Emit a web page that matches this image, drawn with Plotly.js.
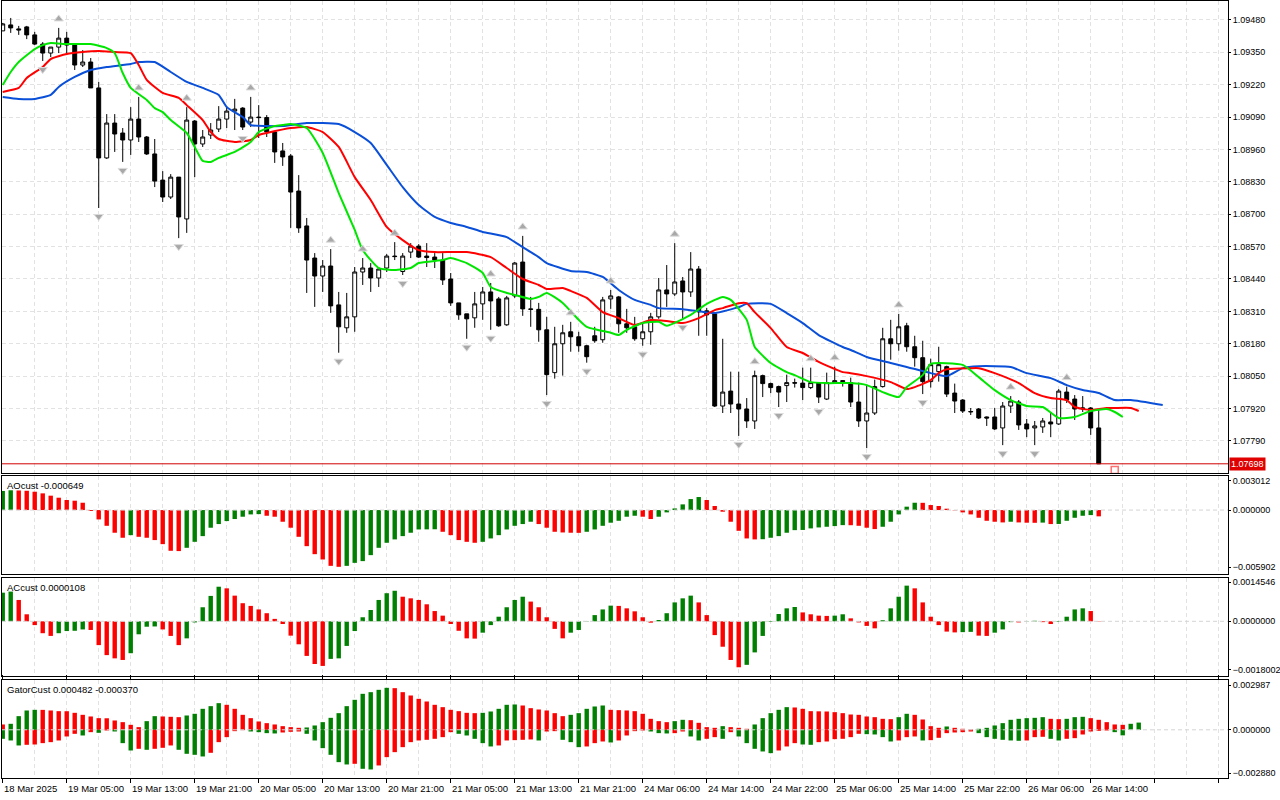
<!DOCTYPE html>
<html>
<head>
<meta charset="utf-8">
<script src="https://cdn.plot.ly/plotly-3.0.1.min.js"></script>
<style>
  html, body { margin:0; padding:0; background:#fff; }
  #chart { width:1280px; height:800px; }
</style>
</head>
<body>
<div id="chart"></div>
<script>
// EURUSD H1, bars 18 Mar 21:00 .. 26 Mar 15:00 (bar index on x)
var openP = [1.09436,1.09460,1.09444,1.09452,1.09420,1.09383,1.09347,1.09371,1.09407,1.09379,
1.09299,1.09311,1.09207,1.08926,1.09066,1.09026,1.08998,1.09082,1.09010,1.08942,
1.08837,1.08769,1.08849,1.08681,1.09074,1.08982,1.09018,1.09042,1.09082,1.09114,
1.09126,1.09070,1.09090,1.09088,1.09030,1.08954,1.08934,1.08793,1.08653,1.08524,
1.08452,1.08492,1.08336,1.08244,1.08288,1.08468,1.08484,1.08444,1.08484,1.08532,
1.08470,1.08548,1.08572,1.08532,1.08528,1.08516,1.08440,1.08344,1.08300,1.08284,
1.08340,1.08388,1.08360,1.08256,1.08372,1.08508,1.08320,1.08318,1.08236,1.08064,
1.08180,1.08228,1.08208,1.08172,1.08212,1.08196,1.08360,1.08368,1.08260,1.08248,
1.08200,1.08228,1.08288,1.08396,1.08380,1.08432,1.08388,1.08480,1.08312,1.08300,
1.07930,1.07990,1.07938,1.07918,1.07870,1.08052,1.08020,1.08008,1.08012,1.08024,
1.08022,1.08004,1.08024,1.07958,1.08024,1.08032,1.08024,1.07946,1.07870,1.07902,
1.08008,1.08200,1.08180,1.08252,1.08168,1.08124,1.08028,1.08068,1.08088,1.07982,
1.07954,1.07906,1.07918,1.07886,1.07886,1.07842,1.07930,1.07946,1.07858,1.07842,
1.07846,1.07866,1.07858,1.07986,1.07958,1.07918,1.07922,1.07842];
var highP = [1.09468,1.09488,1.09456,1.09456,1.09432,1.09391,1.09371,1.09448,1.09432,1.09387,
1.09359,1.09327,1.09231,1.09102,1.09102,1.09046,1.09130,1.09171,1.09014,1.09002,
1.08873,1.08861,1.08849,1.09130,1.09078,1.09038,1.09066,1.09134,1.09134,1.09163,
1.09130,1.09171,1.09138,1.09098,1.09034,1.08986,1.08942,1.08857,1.08685,1.08544,
1.08516,1.08560,1.08388,1.08384,1.08488,1.08524,1.08504,1.08488,1.08540,1.08588,
1.08544,1.08584,1.08580,1.08584,1.08544,1.08544,1.08464,1.08344,1.08300,1.08388,
1.08408,1.08424,1.08368,1.08372,1.08508,1.08613,1.08368,1.08344,1.08288,1.08248,
1.08256,1.08268,1.08228,1.08176,1.08248,1.08368,1.08396,1.08372,1.08320,1.08288,
1.08260,1.08304,1.08444,1.08496,1.08584,1.08448,1.08548,1.08492,1.08324,1.08304,
1.08200,1.08068,1.08068,1.07962,1.08072,1.08056,1.08024,1.08012,1.08056,1.08040,
1.08084,1.08084,1.08026,1.08064,1.08088,1.08034,1.08044,1.08024,1.08016,1.08036,
1.08244,1.08276,1.08300,1.08264,1.08212,1.08192,1.08120,1.08168,1.08092,1.08020,
1.07958,1.07922,1.07922,1.07888,1.07922,1.07946,1.07970,1.07954,1.07878,1.07870,
1.07882,1.07906,1.07998,1.08008,1.07974,1.07970,1.07926,1.07914];
var lowP = [1.09436,1.09428,1.09420,1.09403,1.09379,1.09315,1.09331,1.09347,1.09339,1.09279,
1.09291,1.09207,1.08725,1.08922,1.08950,1.08910,1.08938,1.08990,1.08938,1.08809,
1.08749,1.08761,1.08604,1.08625,1.08849,1.08970,1.09002,1.09030,1.09046,1.09038,
1.09038,1.09050,1.09006,1.09010,1.08906,1.08894,1.08645,1.08625,1.08384,1.08328,
1.08388,1.08304,1.08144,1.08224,1.08228,1.08416,1.08388,1.08408,1.08468,1.08516,
1.08456,1.08524,1.08524,1.08488,1.08484,1.08416,1.08332,1.08276,1.08200,1.08244,
1.08276,1.08236,1.08248,1.08252,1.08364,1.08292,1.08248,1.08188,1.07974,1.08040,
1.08052,1.08148,1.08148,1.08104,1.08184,1.08184,1.08320,1.08224,1.08224,1.08192,
1.08172,1.08176,1.08280,1.08328,1.08372,1.08280,1.08368,1.08212,1.08212,1.07926,
1.07902,1.07902,1.07810,1.07842,1.07838,1.07966,1.07982,1.07926,1.07946,1.08004,
1.07954,1.07998,1.07942,1.07954,1.08020,1.08008,1.07926,1.07846,1.07761,1.07894,
1.08004,1.08116,1.08152,1.08148,1.08088,1.07978,1.08004,1.08028,1.07966,1.07902,
1.07902,1.07894,1.07878,1.07850,1.07834,1.07773,1.07902,1.07834,1.07805,1.07773,
1.07822,1.07805,1.07854,1.07942,1.07874,1.07906,1.07814,1.07697];
var closeP = [1.09464,1.09448,1.09440,1.09420,1.09383,1.09347,1.09371,1.09407,1.09379,1.09299,
1.09311,1.09207,1.08926,1.09066,1.09022,1.08998,1.09082,1.09010,1.08942,1.08833,
1.08769,1.08849,1.08689,1.09078,1.08982,1.09010,1.09038,1.09082,1.09114,1.09122,
1.09050,1.09090,1.09088,1.09030,1.08950,1.08930,1.08789,1.08645,1.08516,1.08452,
1.08492,1.08332,1.08248,1.08288,1.08468,1.08484,1.08444,1.08480,1.08532,1.08530,
1.08532,1.08572,1.08528,1.08526,1.08516,1.08436,1.08344,1.08296,1.08280,1.08340,
1.08388,1.08352,1.08252,1.08364,1.08504,1.08320,1.08318,1.08236,1.08056,1.08180,
1.08224,1.08208,1.08172,1.08128,1.08192,1.08356,1.08372,1.08260,1.08244,1.08200,
1.08228,1.08288,1.08396,1.08380,1.08428,1.08388,1.08480,1.08308,1.08296,1.07930,
1.07986,1.07938,1.07918,1.07870,1.08052,1.08020,1.08004,1.07986,1.08024,1.08022,
1.08004,1.08024,1.07966,1.08024,1.08032,1.08028,1.07946,1.07870,1.07902,1.08008,
1.08200,1.08180,1.08248,1.08168,1.08124,1.08028,1.08096,1.08096,1.07978,1.07950,
1.07910,1.07908,1.07882,1.07882,1.07838,1.07930,1.07950,1.07854,1.07838,1.07850,
1.07870,1.07858,1.07990,1.07954,1.07918,1.07922,1.07842,1.07698];

// Alligator lines (already shifted forward), read at bar index
var jawIdx = [0,2,4,6,7,9,11,13,16,17,19,21,23,25,27,28,30,31,33,35,38,42,44,46,48,50,52,54,56,58,60,63,65,67,68,71,73,75,77,79,81,82,85,87,89,92,93,96,98,100,102,105,106,108,111,113,116,118,120,122,126,128,131,133,135,137,139,141,145];
var jawVal = [1.09171,1.09163,1.09163,1.09179,1.09211,1.09251,1.09279,1.09291,1.09303,1.09311,
1.09311,1.09271,1.09231,1.09207,1.09179,1.09130,1.09090,1.09058,1.09054,1.09054,
1.09066,1.09062,1.09030,1.08986,1.08898,1.08809,1.08737,1.08689,1.08665,1.08649,
1.08629,1.08608,1.08568,1.08528,1.08504,1.08472,1.08468,1.08448,1.08396,1.08356,
1.08336,1.08323,1.08319,1.08311,1.08303,1.08327,1.08340,1.08340,1.08303,1.08263,
1.08215,1.08167,1.08155,1.08127,1.08103,1.08087,1.08062,1.08050,1.08082,1.08090,
1.08087,1.08062,1.08042,1.08014,1.07994,1.07982,1.07954,1.07954,1.07934];
var teethIdx = [0,2,3,5,6,8,10,12,14,16,17,18,20,22,23,25,26,27,29,31,32,33,36,38,40,42,44,46,48,50,52,54,58,61,63,65,67,68,70,71,73,75,77,79,81,83,85,87,89,90,92,93,94,96,98,100,102,105,106,108,111,113,114,116,117,118,121,122,124,127,129,131,133,134,136,138,139,141,142];
var teethVal = [1.09191,1.09207,1.09247,1.09291,1.09323,1.09343,1.09351,1.09355,1.09351,1.09347,
1.09299,1.09239,1.09187,1.09167,1.09138,1.09078,1.09030,1.09002,1.08990,1.08998,
1.09018,1.09026,1.09046,1.09050,1.09030,1.08970,1.08849,1.08757,1.08649,1.08596,
1.08556,1.08548,1.08548,1.08528,1.08484,1.08440,1.08416,1.08400,1.08404,1.08392,
1.08364,1.08307,1.08283,1.08255,1.08275,1.08271,1.08263,1.08283,1.08315,1.08323,
1.08343,1.08343,1.08307,1.08243,1.08167,1.08143,1.08107,1.08066,1.08062,1.08050,
1.08026,1.07998,1.08006,1.08034,1.08062,1.08078,1.08082,1.08082,1.08062,1.08022,
1.07982,1.07962,1.07954,1.07926,1.07914,1.07922,1.07922,1.07922,1.07910];
var lipsIdx = [0,1,2,4,5,6,8,10,11,13,14,15,16,18,19,20,21,23,24,25,26,27,29,31,32,34,35,36,38,40,42,44,45,47,49,51,52,55,56,58,60,61,63,64,66,67,68,70,72,73,76,77,78,80,82,83,86,88,90,91,93,94,96,98,99,101,103,106,108,110,112,113,115,116,120,122,124,126,128,130,132,134,136,138,139,140];
var lipsVal = [1.09219,1.09271,1.09311,1.09363,1.09379,1.09387,1.09383,1.09383,1.09383,1.09367,
1.09347,1.09267,1.09207,1.09159,1.09126,1.09110,1.09078,1.09026,1.08970,1.08914,
1.08910,1.08926,1.08950,1.08990,1.09030,1.09054,1.09058,1.09062,1.09046,1.08946,
1.08785,1.08637,1.08556,1.08484,1.08476,1.08484,1.08504,1.08516,1.08524,1.08504,
1.08464,1.08408,1.08384,1.08376,1.08360,1.08368,1.08384,1.08344,1.08276,1.08248,
1.08224,1.08215,1.08236,1.08263,1.08268,1.08252,1.08296,1.08340,1.08368,1.08356,
1.08276,1.08167,1.08103,1.08066,1.08054,1.08026,1.08022,1.08022,1.08014,1.07986,
1.07966,1.08006,1.08054,1.08099,1.08095,1.08046,1.07994,1.07954,1.07930,1.07926,
1.07882,1.07886,1.07910,1.07918,1.07906,1.07886];

var fractalUp = [7,17,23,31,41,45,49,61,65,71,76,84,94,101,104,112,126,133];
var fractalDown = [5,12,15,22,30,42,50,58,61,68,73,80,85,92,97,102,108,115,125,129];

var aoVal = [0.00198,0.00205,0.00203,0.00200,0.00190,0.00173,0.00149,0.00128,0.00104,0.00097,
0.00076,-0.00010,-0.00097,-0.00163,-0.00235,-0.00287,-0.00260,-0.00277,-0.00287,-0.00311,
-0.00353,-0.00422,-0.00425,-0.00391,-0.00329,-0.00270,-0.00183,-0.00145,-0.00114,-0.00093,
-0.00069,-0.00045,-0.00042,-0.00059,-0.00069,-0.00121,-0.00183,-0.00277,-0.00374,-0.00457,
-0.00512,-0.00578,-0.00588,-0.00578,-0.00547,-0.00529,-0.00467,-0.00391,-0.00339,-0.00304,
-0.00270,-0.00235,-0.00201,-0.00200,-0.00199,-0.00225,-0.00260,-0.00311,-0.00329,-0.00339,
-0.00329,-0.00294,-0.00260,-0.00201,-0.00163,-0.00145,-0.00121,-0.00145,-0.00183,-0.00225,
-0.00232,-0.00235,-0.00236,-0.00225,-0.00201,-0.00163,-0.00131,-0.00111,-0.00069,-0.00059,
-0.00069,-0.00093,-0.00069,-0.00024,0.00017,0.00059,0.00114,0.00135,0.00104,0.00042,
-0.00017,-0.00121,-0.00215,-0.00294,-0.00304,-0.00302,-0.00287,-0.00270,-0.00235,-0.00208,
-0.00206,-0.00190,-0.00180,-0.00173,-0.00166,-0.00156,-0.00157,-0.00163,-0.00183,-0.00197,
-0.00173,-0.00121,-0.00045,0.00035,0.00076,0.00075,0.00052,0.00042,0.00014,-0.00003,
-0.00024,-0.00045,-0.00080,-0.00111,-0.00121,-0.00128,-0.00121,-0.00128,-0.00131,-0.00132,
-0.00130,-0.00145,-0.00144,-0.00111,-0.00080,-0.00059,-0.00052,-0.000649];

var acVal = [0.00106,0.00110,0.00079,0.00026,-0.00014,-0.00044,-0.00054,-0.00044,-0.00036,-0.00035,
-0.00030,-0.00032,-0.00088,-0.00125,-0.00137,-0.00143,-0.00118,-0.00048,-0.00020,-0.00019,
-0.00030,-0.00054,-0.00088,-0.00063,-0.00004,0.00052,0.00094,0.00128,0.00122,0.00095,
0.00067,0.00057,0.00044,0.00030,0.00009,-0.00010,-0.00053,-0.00085,-0.00128,-0.00158,
-0.00165,-0.00139,-0.00137,-0.00091,-0.00036,0.00015,0.00042,0.00079,0.00104,0.00113,
0.00091,0.00085,0.00079,0.00063,0.00038,0.00021,-0.00010,-0.00035,-0.00063,-0.00064,
-0.00042,-0.00014,0.00017,0.00052,0.00079,0.00091,0.00073,0.00052,0.00015,-0.00028,
-0.00063,-0.00042,-0.00032,0.00001,0.00023,0.00044,0.00058,0.00057,0.00048,0.00037,
0.00015,-0.00005,0.00005,0.00030,0.00070,0.00085,0.00095,0.00070,0.00023,-0.00051,
-0.00094,-0.00143,-0.00170,-0.00161,-0.00115,-0.00054,-0.00002,0.00027,0.00048,0.00053,
0.00033,0.00026,0.00021,0.00020,0.00021,0.00026,0.00011,-0.00004,-0.00017,-0.00026,
0.00004,0.00048,0.00091,0.00132,0.00122,0.00070,0.00017,-0.00014,-0.00038,-0.00041,
-0.00040,-0.00039,-0.00053,-0.00054,-0.00042,-0.00030,-0.00003,-0.00004,0.00001,0.00002,
-0.00003,-0.00010,-0.00002,0.00017,0.00044,0.00048,0.00038,0.0000108];

var gatorUp = [0.000356,0.000400,0.000911,0.001289,0.001333,0.001330,0.001289,0.001244,0.001240,0.001133,
0.001000,0.000889,0.000778,0.000770,0.000622,0.000511,0.000333,0.000178,0.000578,0.000911,
0.000889,0.000867,0.000844,0.000955,0.001067,0.001400,0.001578,0.001778,0.001667,0.001400,
0.001000,0.000778,0.000556,0.000444,0.000356,0.000244,0.000178,0.000133,0.000156,0.000289,
0.000511,0.000800,0.001111,0.001578,0.002000,0.002400,0.002511,0.002667,0.002800,0.002778,
0.002511,0.002289,0.002067,0.001889,0.001667,0.001511,0.001333,0.001244,0.001133,0.001111,
0.001133,0.001222,0.001400,0.001667,0.001689,0.001622,0.001444,0.001356,0.001289,0.001111,
0.000911,0.001000,0.001111,0.001400,0.001556,0.001622,0.001333,0.001311,0.001289,0.001244,
0.001067,0.000733,0.000578,0.000511,0.000578,0.000667,0.000644,0.000467,0.000178,0.000133,
0.000244,0.000178,0.000133,0.000067,0.000356,0.000778,0.001111,0.001333,0.001511,0.001489,
0.001400,0.001244,0.001233,0.001222,0.001178,0.001111,0.001022,0.001000,0.000889,0.000844,
0.000733,0.000711,0.000844,0.001067,0.001000,0.000689,0.000244,0.000133,0.000222,0.000133,
0.000067,0.000022,0.000067,0.000133,0.000289,0.000444,0.000667,0.000733,0.000778,0.000800,
0.000844,0.000733,0.000711,0.000733,0.000844,0.000867,0.000778,0.000667,0.000511,0.000356,
0.000333,0.000400,0.000482];
var gatorDown = [-0.000600,-0.000711,-0.001044,-0.001000,-0.000978,-0.000889,-0.000822,-0.000711,-0.000444,-0.000267,
-0.000378,-0.000156,-0.000200,-0.000044,-0.000111,-0.000889,-0.001378,-0.001267,-0.001333,-0.001267,
-0.001200,-0.001044,-0.001333,-0.001600,-0.001667,-0.001778,-0.001533,-0.000822,-0.000489,-0.000089,
-0.000022,-0.000111,-0.000156,-0.000222,-0.000244,-0.000178,-0.000133,-0.000111,-0.000267,-0.000711,
-0.001222,-0.001667,-0.002156,-0.002311,-0.002267,-0.002600,-0.002644,-0.002378,-0.001822,-0.001489,
-0.001156,-0.000822,-0.000711,-0.000667,-0.000600,-0.000489,-0.000156,-0.000267,-0.000378,-0.000600,
-0.000889,-0.001111,-0.001044,-0.000711,-0.000689,-0.000667,-0.000644,-0.000711,-0.000111,-0.000089,
-0.000667,-0.000822,-0.001156,-0.001111,-0.000889,-0.000778,-0.000844,-0.000711,-0.000378,-0.000089,
-0.000044,-0.000111,-0.000222,-0.000244,-0.000222,-0.000111,-0.000444,-0.000711,-0.000600,-0.000489,
-0.000600,-0.000156,-0.000444,-0.000889,-0.001267,-0.001444,-0.001556,-0.001378,-0.001111,-0.000889,
-0.000978,-0.001000,-0.000822,-0.000778,-0.000622,-0.000600,-0.000489,-0.000267,-0.000289,-0.000311,
-0.000489,-0.000778,-0.000711,-0.000489,-0.000444,-0.000711,-0.000689,-0.000533,-0.000222,-0.000178,
-0.000156,-0.000111,-0.000222,-0.000489,-0.000600,-0.000667,-0.000711,-0.000733,-0.000711,-0.000489,
-0.000467,-0.000600,-0.000711,-0.000600,-0.000556,-0.000311,-0.000111,-0.000067,-0.000044,-0.000156,
-0.000370];

var priceTicks = [1.07790,1.07920,1.08050,1.08180,1.08310,1.08440,1.08570,1.08700,1.08830,1.08960,1.09090,1.09220,1.09350,1.09480];
var timeIdx = [0,8,16,24,32,40,48,56,64,72,80,88,96,104,112,120,128,136];
var timeText = ['18 Mar 2025','19 Mar 05:00','19 Mar 13:00','19 Mar 21:00','20 Mar 05:00','20 Mar 13:00',
  '20 Mar 21:00','21 Mar 05:00','21 Mar 13:00','21 Mar 21:00','24 Mar 06:00','24 Mar 14:00',
  '24 Mar 22:00','25 Mar 06:00','25 Mar 14:00','25 Mar 22:00','26 Mar 06:00','26 Mar 14:00'];
var lastPrice = 1.07698;

var GREEN = '#008000', RED = '#ff0000';
var FONT = {family: 'Liberation Sans, Arial, sans-serif', size: 9.5, color: '#000'};
var AXFONT = {family: 'Liberation Sans, Arial, sans-serif', size: 9, color: '#000'};
var GRID = '#e2e2e2';

function idxOf(arr){ return arr.map(function(_, i){ return i; }); }

// green when rising, red when falling
function riseColors(v, first){
  return v.map(function(x, i){
    if(i === 0) return first;
    return x > v[i-1] ? GREEN : RED;
  });
}
function absRiseColors(v, first){
  return v.map(function(x, i){
    if(i === 0) return first;
    return Math.abs(x) > Math.abs(v[i-1]) ? GREEN : RED;
  });
}

var bars = idxOf(closeP);
var data = [];

data.push({
  type: 'candlestick', x: bars, open: openP, high: highP, low: lowP, close: closeP,
  xaxis: 'x', yaxis: 'y', whiskerwidth: 0, hoverinfo: 'skip', showlegend: false,
  increasing: {line: {color: '#000', width: 1}, fillcolor: '#ffffff'},
  decreasing: {line: {color: '#000', width: 1}, fillcolor: '#000000'}
});

[[jawIdx, jawVal, '#0a4fd8'], [teethIdx, teethVal, '#ff0000'], [lipsIdx, lipsVal, '#00e600']].forEach(function(l){
  data.push({
    type: 'scatter', mode: 'lines', x: l[0], y: l[1], xaxis: 'x', yaxis: 'y',
    line: {color: l[2], width: 2, shape: 'spline', smoothing: 0.5},
    hoverinfo: 'skip', showlegend: false
  });
});

// fractal arrowheads
data.push({
  type: 'scatter', mode: 'markers', xaxis: 'x', yaxis: 'y',
  x: fractalUp, y: fractalUp.map(function(i){ return highP[i] + 0.00036; }),
  marker: {symbol: 'triangle-up', size: 8, color: '#a8a8a8', line: {color: '#dcdcdc', width: 1}},
  hoverinfo: 'skip', showlegend: false
});
data.push({
  type: 'scatter', mode: 'markers', xaxis: 'x', yaxis: 'y',
  x: fractalDown, y: fractalDown.map(function(i){ return lowP[i] - 0.00034; }),
  marker: {symbol: 'triangle-down', size: 8, color: '#a8a8a8', line: {color: '#dcdcdc', width: 1}},
  hoverinfo: 'skip', showlegend: false
});
// small marker just below the current price line
data.push({
  type: 'scatter', mode: 'markers', xaxis: 'x', yaxis: 'y',
  x: [139], y: [lastPrice - 0.00025],
  marker: {symbol: 'square-open', size: 7, color: '#ff7070', line: {width: 1.5}},
  hoverinfo: 'skip', showlegend: false
});

data.push({
  type: 'bar', x: idxOf(aoVal), y: aoVal, xaxis: 'x', yaxis: 'y2', width: 0.55,
  marker: {color: riseColors(aoVal, GREEN), line: {width: 0}}, hoverinfo: 'skip', showlegend: false
});
data.push({
  type: 'bar', x: idxOf(acVal), y: acVal, xaxis: 'x', yaxis: 'y3', width: 0.55,
  marker: {color: riseColors(acVal, GREEN), line: {width: 0}}, hoverinfo: 'skip', showlegend: false
});
data.push({
  type: 'bar', x: idxOf(gatorUp), y: gatorUp, xaxis: 'x', yaxis: 'y4', width: 0.55,
  marker: {color: riseColors(gatorUp, RED), line: {width: 0}}, hoverinfo: 'skip', showlegend: false
});
data.push({
  type: 'bar', x: idxOf(gatorDown), y: gatorDown, xaxis: 'x', yaxis: 'y4', width: 0.55,
  marker: {color: absRiseColors(gatorDown, GREEN), line: {width: 0}}, hoverinfo: 'skip', showlegend: false
});

function subAxis(domain, range, ticks, fmt){
  return {
    domain: domain, range: range, anchor: 'x', side: 'right',
    tickmode: 'array', tickvals: ticks, tickformat: fmt,
    ticks: 'outside', ticklen: 2, tickcolor: '#000', tickfont: AXFONT,
    showgrid: false, zeroline: false, fixedrange: true,
    showline: true, mirror: true, linecolor: '#000', linewidth: 1
  };
}

var annotations = timeIdx.map(function(k, i){
  return {
    xref: 'x', yref: 'paper', x: k, y: 0, yshift: -10, xshift: -1,
    xanchor: 'left', yanchor: 'middle', text: timeText[i], showarrow: false, font: FONT
  };
});
[['AOcust -0.000649', 0.3887], ['ACcust 0.0000108', 0.2574], ['GatorCust 0.000482 -0.000370', 0.1261]].forEach(function(t){
  annotations.push({
    xref: 'paper', yref: 'paper', x: 0.0025, y: t[1], yshift: -2,
    xanchor: 'left', yanchor: 'top', text: t[0], showarrow: false, font: FONT
  });
});
annotations.push({
  xref: 'paper', yref: 'y', x: 1, y: lastPrice, xanchor: 'left', yanchor: 'middle', xshift: 1,
  text: lastPrice.toFixed(5), showarrow: false, bgcolor: '#e00000', borderpad: 1,
  font: {family: AXFONT.family, size: 9, color: '#ffffff'}
});

var shapes = [
  {type: 'line', xref: 'paper', yref: 'y', x0: 0, x1: 1, y0: lastPrice, y1: lastPrice,
   line: {color: '#d00000', width: 1}}
];
['y2', 'y3', 'y4'].forEach(function(ax){
  shapes.push({type: 'line', xref: 'paper', yref: ax, x0: 0, x1: 1, y0: 0, y1: 0, layer: 'above',
    line: {color: '#d4d4d4', width: 1, dash: '4px,3px'}});
});

var layout = {
  width: 1280, height: 800,
  margin: {l: 2, r: 52, t: 1, b: 22},
  paper_bgcolor: '#ffffff', plot_bgcolor: '#ffffff',
  showlegend: false, barmode: 'overlay', dragmode: false, hovermode: false,
  font: FONT,
  xaxis: {
    domain: [0, 1], anchor: 'y4', range: [-0.09, 153.16], fixedrange: true,
    rangeslider: {visible: false},
    tickmode: 'linear', tick0: 0, dtick: 8, showticklabels: false,
    ticks: 'outside', ticklen: 4, tickcolor: '#000',
    showgrid: true, gridcolor: GRID, griddash: '4px,3px', gridwidth: 1,
    minor: {tick0: 0, dtick: 4, showgrid: true, gridcolor: GRID, griddash: '4px,3px', ticks: ''},
    zeroline: false, showline: true, mirror: 'all', linecolor: '#000', linewidth: 1
  },
  yaxis: {
    domain: [0.3925, 1], range: [1.07661, 1.09556], anchor: 'x', side: 'right',
    tickmode: 'array', tickvals: priceTicks, tickformat: '.5f',
    ticks: 'outside', ticklen: 2, tickcolor: '#000', tickfont: AXFONT,
    showgrid: true, gridcolor: GRID, griddash: '4px,3px', zeroline: false, fixedrange: true,
    showline: true, mirror: true, linecolor: '#000', linewidth: 1
  },
  yaxis2: subAxis([0.2625, 0.3887], [-0.006628, 0.003531], [0.003012, 0, -0.005902], '.6f'),
  yaxis3: subAxis([0.1313, 0.2574], [-0.0020222, 0.0016026], [0.0014546, 0, -0.0018002], '.7f'),
  yaxis4: subAxis([0, 0.1261], [-0.0032135, 0.0033205], [0.002987, 0, -0.002880], '.6f'),
  annotations: annotations,
  shapes: shapes
};

Plotly.newPlot('chart', data, layout, {staticPlot: true, displayModeBar: false});
</script>
</body>
</html>
